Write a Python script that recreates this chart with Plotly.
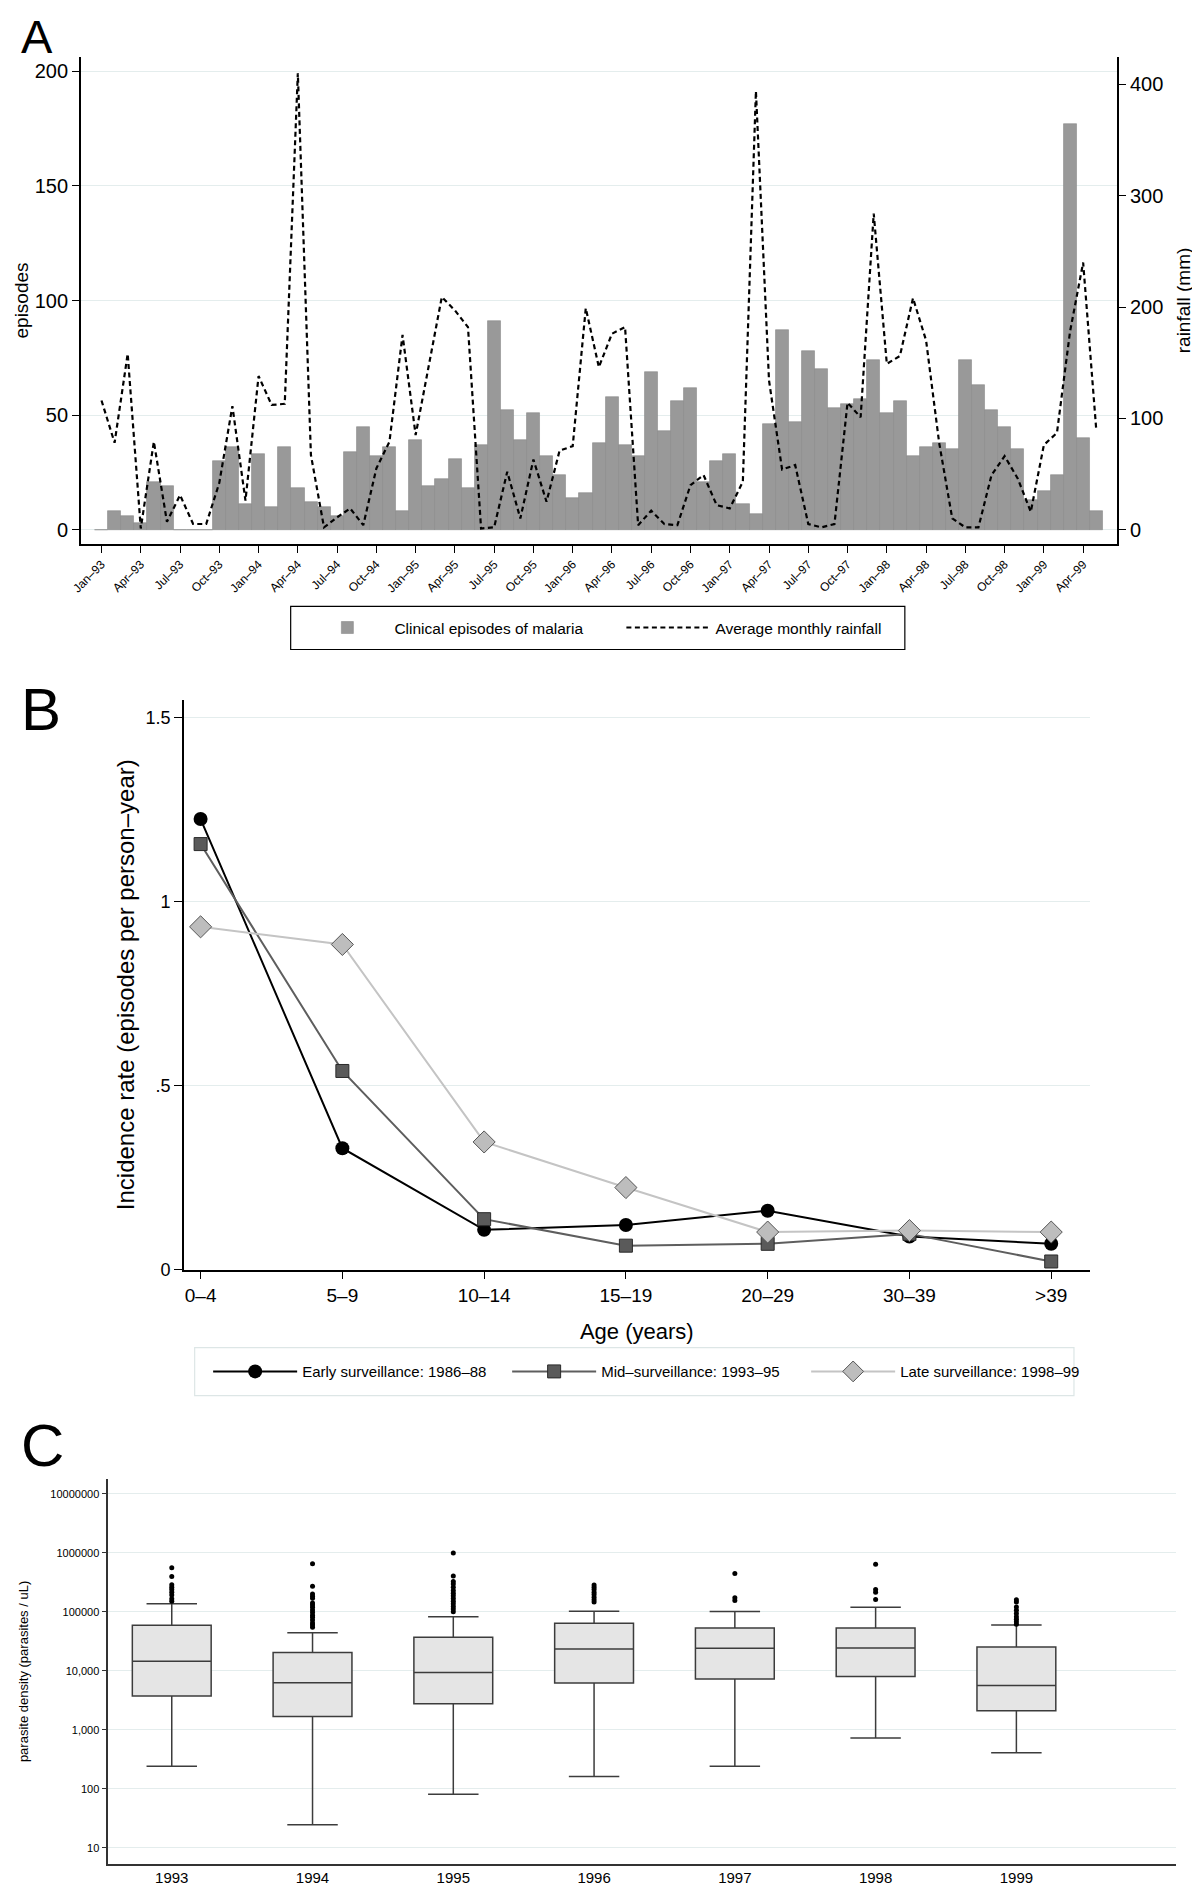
import plotly.graph_objects as go

# The page adds an 8px body margin, so the figure is drawn 8px smaller.
W, H = 1192, 1878
FONT = "Liberation Sans, Arial, Helvetica, sans-serif"
GRID = "#e4eded"

# ---------------- Panel A data ----------------
month_index = list(range(77))  # Jan-93 .. May-99
episodes = [0, 8, 6, 3, 21, 19, 0, 0, 0, 30, 36, 11,
            33, 10, 36, 18, 12, 10, 6, 34, 45, 32, 36, 8,
            39, 19, 22, 31, 18, 37, 91, 52, 39, 51, 32, 24,
            14, 16, 38, 58, 37, 32, 69, 43, 56, 62, 21, 30,
            33, 11, 7, 46, 87, 47, 78, 70, 53, 55, 57, 74,
            51, 56, 32, 36, 38, 35, 74, 63, 52, 45, 35, 13,
            17, 24, 177, 40, 8]
rainfall = [116, 78, 158, 1, 79, 7, 31, 5, 5, 42, 111, 26,
            138, 112, 113, 410, 67, 2, 11, 19, 4, 55, 79, 175,
            85, 147, 209, 197, 182, 1, 2, 52, 10, 63, 25, 71,
            75, 199, 146, 176, 182, 4, 17, 5, 4, 40, 49, 22,
            19, 43, 394, 134, 54, 58, 5, 2, 5, 114, 101, 284,
            149, 156, 208, 170, 78, 10, 2, 2, 49, 66, 46, 16,
            76, 87, 178, 240, 90]
month_tick_pos = [0, 3, 6, 9, 12, 15, 18, 21, 24, 27, 30, 33, 36, 39, 42, 45,
                  48, 51, 54, 57, 60, 63, 66, 69, 72, 75]
month_tick_labels = ["Jan–93", "Apr–93", "Jul–93", "Oct–93",
                     "Jan–94", "Apr–94", "Jul–94", "Oct–94",
                     "Jan–95", "Apr–95", "Jul–95", "Oct–95",
                     "Jan–96", "Apr–96", "Jul–96", "Oct–96",
                     "Jan–97", "Apr–97", "Jul–97", "Oct–97",
                     "Jan–98", "Apr–98", "Jul–98", "Oct–98",
                     "Jan–99", "Apr–99"]

# ---------------- Panel B data ----------------
age_groups = ["0–4", "5–9", "10–14", "15–19", "20–29", "30–39", ">39"]
early_rate = [1.225, 0.330, 0.108, 0.121, 0.160, 0.090, 0.070]
mid_rate = [1.157, 0.540, 0.137, 0.065, 0.070, 0.097, 0.022]
late_rate = [0.932, 0.884, 0.347, 0.223, 0.102, 0.106, 0.102]
rate_tick_vals = [0, 0.5, 1, 1.5]
rate_tick_text = ["0", ".5", "1", "1.5"]

# ---------------- Panel C data ----------------
years = ["1993", "1994", "1995", "1996", "1997", "1998", "1999"]
dens_q1 = [3730, 1690, 2780, 6220, 7260, 8050, 2100]
dens_median = [14500, 6300, 9370, 23500, 24200, 24500, 5620]
dens_q3 = [59200, 20500, 37300, 64000, 53400, 53400, 25500]
dens_lower = [242, 24.5, 80.5, 161, 242, 727, 408]
dens_upper = [137700, 44100, 82600, 102600, 102000, 119600, 60000]
out_1993 = [562000, 398000, 289000, 261000, 239000, 215000, 194000, 167000, 152000]
out_1994 = [656000, 271000, 202000, 185000, 171000, 141000, 131000, 120000, 108000,
            98000, 88000, 81000, 73000, 65000, 60000, 55000]
out_1995 = [1000000, 408000, 329000, 297000, 261000, 230000, 207000, 187000, 169000,
            152000, 137000, 124000, 112000, 101000]
out_1996 = [286000, 261000, 239000, 215000, 198000, 178000, 161000, 147000]
out_1997 = [447000, 173000, 156000]
out_1998 = [640000, 239000, 215000, 163000]
out_1999 = [161000, 147000, 121000, 107000, 94000, 83000, 75000, 68000, 62000]
dens_tick_vals = [10, 100, 1000, 10000, 100000, 1000000, 10000000]
dens_tick_text = ["10", "100", "1,000", "10,000", "100000", "1000000", "10000000"]

outliers = [out_1993, out_1994, out_1995, out_1996, out_1997, out_1998, out_1999]
out_x, out_y = [], []
for yr, vals in zip(years, outliers):
    out_x += [yr] * len(vals)
    out_y += vals


def fx(px):
    return px / W


def fy(px):
    return 1 - px / H


fig = go.Figure()

# Panel A
fig.add_trace(go.Bar(x=month_index, y=episodes, width=1, name="Clinical episodes of malaria",
                     marker=dict(color="#999999", line=dict(color="#8a8a8a", width=0.6)),
                     xaxis="x", yaxis="y", legend="legend", legendwidth=222))
fig.add_trace(go.Scatter(x=month_index, y=rainfall, mode="lines", name="Average monthly rainfall",
                         line=dict(color="black", width=2.2, dash="5px,3.5px"),
                         xaxis="x", yaxis="y2", legend="legend"))

# Panel B
fig.add_trace(go.Scatter(x=age_groups, y=early_rate, mode="lines+markers",
                         name="Early surveillance: 1986–88",
                         line=dict(color="black", width=2),
                         marker=dict(symbol="circle", size=14, color="black"),
                         xaxis="x2", yaxis="y3", legend="legend2"))
fig.add_trace(go.Scatter(x=age_groups, y=mid_rate, mode="lines+markers",
                         name="Mid–surveillance: 1993–95",
                         line=dict(color="#5e5e5e", width=2),
                         marker=dict(symbol="square", size=13, color="#5a5a5a",
                                     line=dict(color="#2a2a2a", width=1)),
                         xaxis="x2", yaxis="y3", legend="legend2"))
fig.add_trace(go.Scatter(x=age_groups, y=late_rate, mode="lines+markers",
                         name="Late surveillance: 1998–99",
                         line=dict(color="#c4c4c4", width=2),
                         marker=dict(symbol="diamond", size=17, color="#bdbdbd",
                                     line=dict(color="#555555", width=1)),
                         xaxis="x2", yaxis="y3", legend="legend2"))

# Panel C
fig.add_trace(go.Box(x=years, q1=dens_q1, median=dens_median, q3=dens_q3,
                     lowerfence=dens_lower, upperfence=dens_upper,
                     width=0.56, whiskerwidth=0.64, boxpoints=False,
                     fillcolor="#e5e5e5", line=dict(color="#3c3c3c", width=1.5),
                     showlegend=False, xaxis="x3", yaxis="y4"))
fig.add_trace(go.Scatter(x=out_x, y=out_y, mode="markers",
                         marker=dict(color="black", size=5),
                         showlegend=False, xaxis="x3", yaxis="y4"))

line_style = dict(showline=True, linecolor="black", linewidth=1.5, ticks="outside",
                  tickcolor="black", zeroline=False)

fig.update_layout(
    width=W, height=H, margin=dict(l=0, r=0, t=0, b=0),
    paper_bgcolor="white", plot_bgcolor="white", bargap=0,
    font=dict(family=FONT, color="black"),
    # Panel A axes
    xaxis=dict(domain=[fx(62.4), fx(1108.4)], anchor="y", range=[-1.58, 77.6],
               tickmode="array", tickvals=month_tick_pos, ticktext=month_tick_labels,
               tickangle=-45, ticklen=7, showgrid=False, tickfont=dict(size=12), **line_style),
    yaxis=dict(domain=[fy(539.1), fy(49.3)], anchor="x", range=[-6.25, 206.3],
               tickmode="array", tickvals=[0, 50, 100, 150, 200], ticklen=7,
               showgrid=True, gridcolor=GRID, tickfont=dict(size=20),
               title=dict(text="episodes", font=dict(size=19), standoff=1), **line_style),
    yaxis2=dict(overlaying="y", side="right", anchor="x", range=[-12.9, 424.7],
                tickmode="array", tickvals=[0, 100, 200, 300, 400], ticklen=7,
                showgrid=False, tickfont=dict(size=20),
                title=dict(text="rainfall (mm)", font=dict(size=19), standoff=14), **line_style),
    # Panel B axes
    xaxis2=dict(domain=[fx(166.4), fx(1080.6)], anchor="y3", type="category",
                categoryorder="array", categoryarray=age_groups, range=[-0.118, 6.271],
                ticklen=8, showgrid=False, tickfont=dict(size=19),
                title=dict(text="Age (years)", font=dict(size=22), standoff=18), **line_style),
    yaxis3=dict(domain=[fy(1269), fy(696)], anchor="x2", range=[0, 1.549],
                tickmode="array", tickvals=rate_tick_vals, ticktext=rate_tick_text,
                ticklen=8, showgrid=True, gridcolor=GRID, tickfont=dict(size=18),
                title=dict(text="Incidence rate (episodes per person–year)", font=dict(size=24),
                           standoff=4), **line_style),
    # Panel C axes
    xaxis3=dict(domain=[fx(90.1), fx(1167.8)], anchor="y4", type="category",
                categoryorder="array", categoryarray=years, range=[-0.451, 7.134],
                ticks="", showgrid=False, tickfont=dict(size=15),
                showline=True, linecolor="#333333", linewidth=1.5, zeroline=False),
    yaxis4=dict(domain=[fy(1866.6), fy(1479.9)], anchor="x3", type="log", range=[0.73, 7.25],
                tickmode="array", tickvals=dens_tick_vals, ticktext=dens_tick_text,
                ticklen=5, showgrid=True, gridcolor=GRID, tickfont=dict(size=11),
                title=dict(text="parasite density (parasites / uL)", font=dict(size=13), standoff=19),
                showline=True, linecolor="#333333", linewidth=1.5, ticks="outside",
                tickcolor="#333333", zeroline=False),
    legend=dict(orientation="h", x=fx(284), y=fy(623.6), xanchor="left", yanchor="middle",
                bgcolor="rgba(0,0,0,0)", borderwidth=0,
                font=dict(size=15.5), itemwidth=84),
    legend2=dict(orientation="h", x=fx(190.9), y=fy(1371.7), xanchor="left", yanchor="middle",
                 bgcolor="rgba(0,0,0,0)", borderwidth=0,
                 font=dict(size=15), itemwidth=84, entrywidth=200),
    shapes=[
        dict(type="rect", xref="paper", yref="paper", x0=fx(274.2), x1=fx(894.1),
             y0=fy(645.3), y1=fy(601.9), line=dict(color="black", width=1.2),
             fillcolor="white", layer="below"),
        dict(type="rect", xref="paper", yref="paper", x0=fx(177.3), x1=fx(1064.8),
             y0=fy(1395.8), y1=fy(1347.5), line=dict(color="#dde6e6", width=1.2),
             fillcolor="white", layer="below"),
    ],
    annotations=[
        dict(text="A", x=0, y=1, xref="paper", yref="paper", xanchor="left",
             yanchor="top", showarrow=False, font=dict(size=47, color="black")),
        dict(text="B", x=0, y=fy(705.6), xref="paper", yref="paper", xanchor="left",
             yanchor="middle", showarrow=False, font=dict(size=60, color="black")),
        dict(text="C", x=0, y=fy(1446.4), xref="paper", yref="paper", xanchor="left",
             yanchor="middle", showarrow=False, font=dict(size=60, color="black")),
    ],
)

fig.write_html("out.html")
